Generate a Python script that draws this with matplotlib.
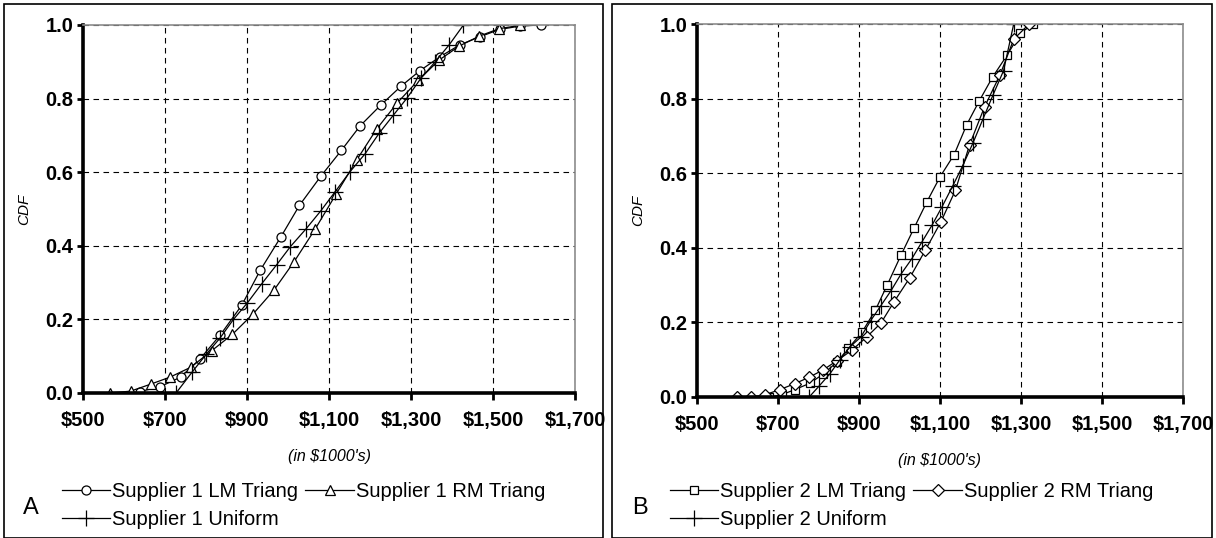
import matplotlib.pyplot as plt
from matplotlib.patches import Rectangle

# ---- data ----
a_lm_x = [639, 688, 738, 785, 835, 887, 932, 982, 1028, 1080, 1130, 1176, 1226, 1276, 1322, 1371, 1419, 1468, 1516, 1566, 1616]
a_lm_y = [0.004, 0.017, 0.043, 0.092, 0.158, 0.238, 0.333, 0.423, 0.510, 0.589, 0.659, 0.726, 0.782, 0.834, 0.876, 0.914, 0.946, 0.968, 0.988, 0.997, 1.0]
a_rm_x = [566, 616, 665, 712, 763, 814, 864, 915, 966, 1015, 1066, 1117, 1168, 1216, 1267, 1318, 1369, 1418, 1467, 1515, 1566]
a_rm_y = [0.0, 0.005, 0.024, 0.043, 0.070, 0.115, 0.159, 0.215, 0.280, 0.357, 0.445, 0.540, 0.634, 0.717, 0.789, 0.850, 0.905, 0.943, 0.970, 0.990, 0.999]
a_un_x = [727, 767, 801, 834, 867, 901, 936, 972, 1006, 1044, 1080, 1115, 1151, 1188, 1223, 1257, 1290, 1324, 1359, 1393, 1428]
a_un_y = [0.0, 0.058, 0.106, 0.149, 0.200, 0.245, 0.297, 0.348, 0.398, 0.446, 0.495, 0.547, 0.601, 0.650, 0.707, 0.755, 0.801, 0.855, 0.900, 0.946, 1.0]

b_lm_x = [679, 709, 742, 779, 812, 845, 874, 907, 940, 970, 1004, 1036, 1067, 1100, 1135, 1166, 1197, 1230, 1266, 1298, 1330]
b_lm_y = [0.0, 0.006, 0.020, 0.037, 0.062, 0.093, 0.131, 0.173, 0.232, 0.301, 0.381, 0.453, 0.522, 0.590, 0.650, 0.730, 0.794, 0.858, 0.917, 0.975, 1.0]
b_rm_x = [598, 633, 668, 705, 742, 777, 812, 845, 882, 919, 954, 987, 1025, 1064, 1102, 1138, 1173, 1210, 1248, 1282, 1320]
b_rm_y = [0.0, 0.0, 0.006, 0.020, 0.036, 0.053, 0.073, 0.097, 0.125, 0.161, 0.198, 0.256, 0.319, 0.394, 0.469, 0.554, 0.676, 0.778, 0.863, 0.959, 1.0]
b_un_x = [777, 802, 828, 853, 878, 904, 929, 954, 979, 1004, 1030, 1055, 1080, 1105, 1131, 1156, 1181, 1206, 1231, 1257, 1282]
b_un_y = [0.0, 0.030, 0.062, 0.100, 0.135, 0.160, 0.205, 0.245, 0.285, 0.330, 0.370, 0.415, 0.460, 0.510, 0.565, 0.620, 0.680, 0.745, 0.810, 0.875, 1.0]

x_ticks = [500, 700, 900, 1100, 1300, 1500, 1700]
x_labels = ['$500', '$700', '$900', '$1,100', '$1,300', '$1,500', '$1,700']
y_ticks = [0.0, 0.2, 0.4, 0.6, 0.8, 1.0]
y_labels = ['0.0', '0.2', '0.4', '0.6', '0.8', '1.0']

plt.rcParams['font.family'] = ['Liberation Sans', 'DejaVu Sans']

W, H = 1216, 538
fig = plt.figure(figsize=(W / 100, H / 100), dpi=100)


def px_axes(left, top, right, bottom):
    return fig.add_axes([left / W, 1 - bottom / H, (right - left) / W, (bottom - top) / H])


def style(ax):
    ax.set_xlim(500, 1700)
    ax.set_ylim(0, 1)
    ax.set_xticks(x_ticks, x_labels)
    ax.set_yticks(y_ticks, y_labels)
    for lab in ax.get_xticklabels() + ax.get_yticklabels():
        lab.set_fontweight('bold')
        lab.set_fontsize(14.5)
    ax.tick_params(axis='x', direction='out', length=5, width=2, pad=8)
    ax.tick_params(axis='y', direction='out', length=4, width=2, pad=3)
    for s in ['left', 'bottom']:
        ax.spines[s].set_linewidth(2.6)
    for s in ['top', 'right']:
        ax.spines[s].set_color('#8c8c8c')
        ax.spines[s].set_linewidth(1.2)
    ax.grid(True, color='black', linestyle=(0, (5, 4)), linewidth=0.8)
    ax.set_ylabel('CDF', fontstyle='italic', fontsize=11, labelpad=10)
    ax.set_xlabel("(in $1000's)", fontstyle='italic', fontsize=11.5, labelpad=14)


lk = dict(color='black', linewidth=0.9, markerfacecolor='white', markeredgecolor='black', markeredgewidth=0.9)
leg_kw = dict(ncol=2, frameon=False, fontsize=14.5, handlelength=2.4, handletextpad=0.1,
              columnspacing=0.35, labelspacing=0.45, borderaxespad=0, borderpad=0, loc='upper left')

# ---- panel A ----
axA = px_axes(83, 25, 575, 393)
style(axA)
hA1, = axA.plot(a_lm_x, a_lm_y, marker='o', markersize=6.5, label='Supplier 1 LM Triang', **lk)
hA2, = axA.plot(a_rm_x, a_rm_y, marker='^', markersize=7, label='Supplier 1 RM Triang', **lk)
hA3, = axA.plot(a_un_x, a_un_y, marker='+', markersize=11, label='Supplier 1 Uniform', **lk)
fig.legend([hA1, hA3, hA2], [hA1.get_label(), hA3.get_label(), hA2.get_label()],
           bbox_to_anchor=(62 / W, 1 - 482 / H), **leg_kw)
fig.text(31 / W, 1 - 508 / H, 'A', fontsize=17, va='center', ha='center')

# ---- panel B ----
axB = px_axes(697, 24, 1183, 397)
style(axB)
hB1, = axB.plot(b_lm_x, b_lm_y, marker='s', markersize=6, label='Supplier 2 LM Triang', **lk)
hB2, = axB.plot(b_rm_x, b_rm_y, marker='D', markersize=6.5, label='Supplier 2 RM Triang', **lk)
hB3, = axB.plot(b_un_x, b_un_y, marker='+', markersize=11, label='Supplier 2 Uniform', **lk)
fig.legend([hB1, hB3, hB2], [hB1.get_label(), hB3.get_label(), hB2.get_label()],
           bbox_to_anchor=(670 / W, 1 - 482 / H), **leg_kw)
fig.text(640 / W, 1 - 508 / H, 'B', fontsize=17, va='center', ha='center')

# panel frames
for x0, x1 in [(4, 603), (612, 1212)]:
    fig.patches.append(Rectangle((x0 / W, 0 / H), (x1 - x0) / W, (H - 4) / H,
                                 transform=fig.transFigure, fill=False,
                                 edgecolor='black', linewidth=1.2))

fig.savefig('out.png', dpi=100)
